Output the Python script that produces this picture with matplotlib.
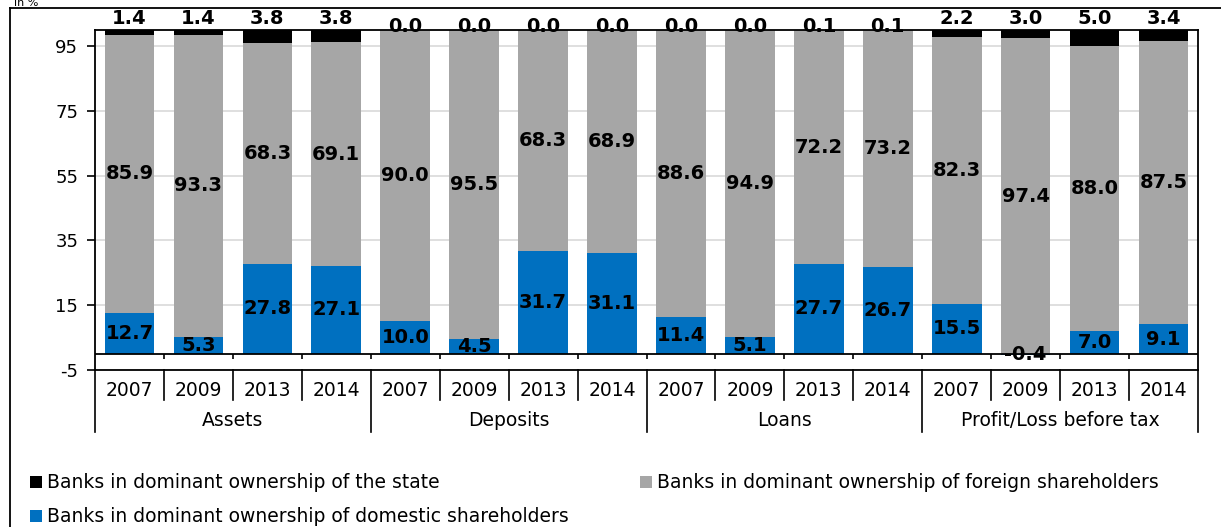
import matplotlib
matplotlib.use('Agg')
import matplotlib.pyplot as plt
from matplotlib.patches import Rectangle
from matplotlib.lines import Line2D
import matplotlib.transforms as mtransforms

groups = ["Assets", "Deposits", "Loans", "Profit/Loss before tax"]
years = ["2007", "2009", "2013", "2014"]
domestic = [12.7, 5.3, 27.8, 27.1, 10.0, 4.5, 31.7, 31.1, 11.4, 5.1, 27.7, 26.7, 15.5, -0.4, 7.0, 9.1]
foreign = [85.9, 93.3, 68.3, 69.1, 90.0, 95.5, 68.3, 68.9, 88.6, 94.9, 72.2, 73.2, 82.3, 97.4, 88.0, 87.5]
state = [1.4, 1.4, 3.8, 3.8, 0.0, 0.0, 0.0, 0.0, 0.0, 0.0, 0.1, 0.1, 2.2, 3.0, 5.0, 3.4]
yticks = [-5, 15, 35, 55, 75, 95]
legend_labels = ["Banks in dominant ownership of the state",
                 "Banks in dominant ownership of foreign shareholders",
                 "Banks in dominant ownership of domestic shareholders"]

C_STATE = "#000000"
C_FOR = "#A6A6A6"
C_DOM = "#0070C0"

W, H = 1221, 527
fig = plt.figure(figsize=(W / 100, H / 100), dpi=100)
ax = fig.add_axes([95 / W, 1 - 370 / H, (1198 - 95) / W, 340 / H])

n = len(domestic)
xs = list(range(n))
bw = 0.72
dom_pos = [max(d, 0) for d in domestic]
for_bottom = dom_pos
state_bottom = [a + b for a, b in zip(dom_pos, foreign)]

ax.bar(xs, domestic, bw, color=C_DOM, zorder=2)
ax.bar(xs, foreign, bw, bottom=for_bottom, color=C_FOR, zorder=2)
ax.bar(xs, state, bw, bottom=state_bottom, color=C_STATE, zorder=2)

ax.set_xlim(-0.5, n - 0.5)
ax.set_ylim(-5, 100)
ax.set_yticks(yticks)
ax.set_yticklabels([str(t) for t in yticks], fontsize=13)
ax.tick_params(axis='y', length=6, width=1.2, direction='out', pad=6)
ax.set_xticks([])
ax.grid(axis='y', color='#D9D9D9', linewidth=1.2, zorder=0)
ax.set_axisbelow(True)
for s in ax.spines.values():
    s.set_linewidth(1.3)
    s.set_color('black')

# zero line with small ticks
ax.axhline(0, color='black', linewidth=1.3, zorder=3)
ax.vlines([i + 0.5 for i in range(n - 1)], -1.6, 0, color='black', linewidth=1.2, zorder=3)

lab_kw = dict(ha='center', va='center', fontsize=14, fontweight='bold', color='black', zorder=5)
for i in xs:
    ax.text(i, domestic[i] / 2, f"{domestic[i]:.1f}", **lab_kw)
    ax.text(i, for_bottom[i] + foreign[i] / 2, f"{foreign[i]:.1f}", **lab_kw)
    off = 3.7 if state[i] >= 1 else 1.2
    ax.text(i, 100 + off, f"{state[i]:.1f}", clip_on=False, **lab_kw)

# category axis below
trans = mtransforms.blended_transform_factory(ax.transData, ax.transAxes)
ph = 340.0
for i, y in enumerate(years * len(groups)):
    ax.text(i, -20 / ph, y, transform=trans, ha='center', va='center', fontsize=13.5)
for k in range(1, n):
    if k % 4 != 0:
        ax.add_line(Line2D([k - 0.5, k - 0.5], [0, -30 / ph], transform=trans, color='black',
                           linewidth=1.2, clip_on=False))
for k in range(0, n + 1, 4):
    ax.add_line(Line2D([k - 0.5, k - 0.5], [0, -62 / ph], transform=trans, color='black',
                       linewidth=1.2, clip_on=False))
for g, name in enumerate(groups):
    ax.text(g * 4 + 1.5, -51 / ph, name, transform=trans, ha='center', va='center', fontsize=13.5)

# outer frame
fig.add_artist(Line2D([10 / W, 10 / W], [0, 1 - 8 / H], transform=fig.transFigure, color='black', linewidth=1.3))
fig.add_artist(Line2D([10 / W, 1], [1 - 8 / H, 1 - 8 / H], transform=fig.transFigure, color='black', linewidth=1.3))
fig.text(14 / W, 1 - 6.5 / H, "in %", ha='left', va='baseline', fontsize=8)

# legend
leg = [(30, 482, C_STATE, legend_labels[0]), (640, 482, C_FOR, legend_labels[1]),
       (30, 516, C_DOM, legend_labels[2])]
for x, y, c, t in leg:
    fig.add_artist(Rectangle((x / W, 1 - (y + 6) / H), 12 / W, 12 / H, transform=fig.transFigure,
                             facecolor=c, edgecolor='none'))
    fig.text((x + 17) / W, 1 - y / H, t, ha='left', va='center', fontsize=13.5)

fig.savefig("out.png", dpi=100)
